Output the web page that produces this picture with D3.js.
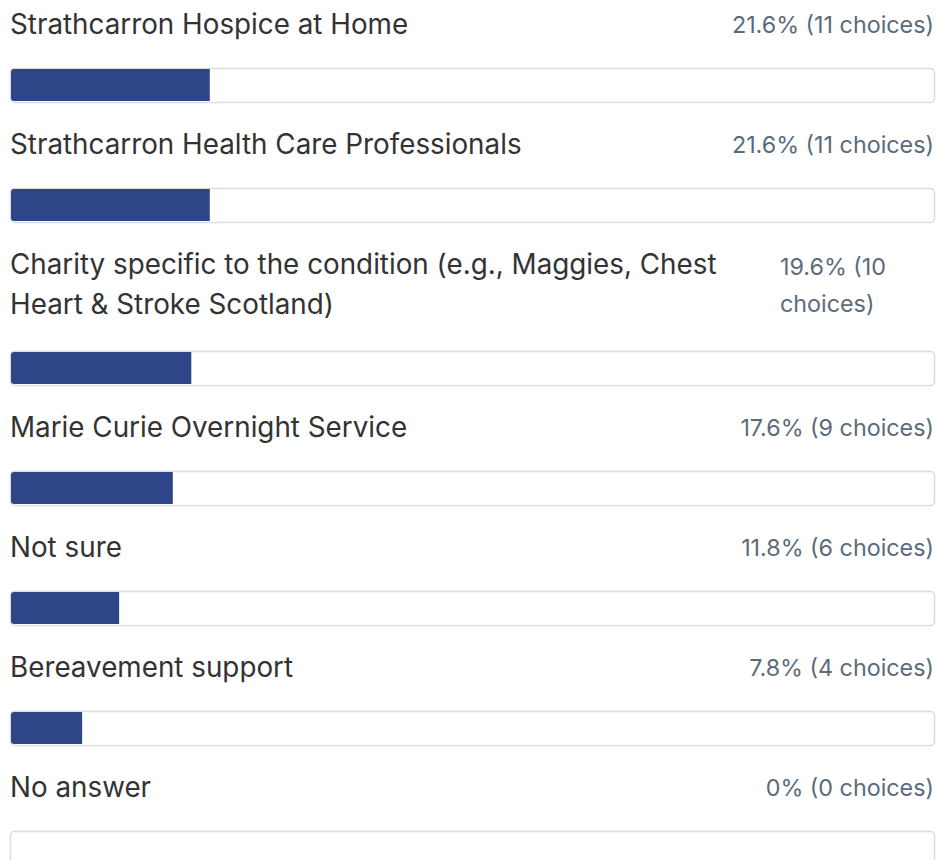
<!DOCTYPE html>
<html>
<head>
<meta charset="utf-8">
<script src="https://cdn.jsdelivr.net/npm/d3@7"></script>
<style>
  body { margin: 0; background: #fff; }
  svg { display: block; font-family: Inter, "Noto Sans", sans-serif; }
</style>
</head>
<body>
<svg id="chart" width="936" height="860"></svg>
<script>
// survey answers
const categories = [
  "Strathcarron Hospice at Home",
  "Strathcarron Health Care Professionals",
  "Charity specific to the condition (e.g., Maggies, Chest Heart & Stroke Scotland)",
  "Marie Curie Overnight Service",
  "Not sure",
  "Bereavement support",
  "No answer"
];
const percents = [21.6, 21.6, 19.6, 17.6, 11.8, 7.8, 0];
const counts = [11, 11, 10, 9, 6, 4, 0];

const trackLeft = 10;
const trackRight = 935;
const labelMax = 730;
const labelSize = 27.8;
const valueSize = 23.3;
const lineH = 40.5;
const extraH = 42.5; // extra row height per wrapped label line

const svg = d3.select("#chart");

const x = d3.scaleLinear().domain([0, 100]).range([trackLeft, trackRight]);

// wrap text into lines that fit maxW
function wrapWords(str, maxW, size) {
  const tmp = svg.append("text").attr("font-size", size);
  const words = str.split(" ");
  let lines = [];
  let cur = "";
  words.forEach((w) => {
    const test = cur ? cur + " " + w : w;
    tmp.text(test);
    if (tmp.node().getComputedTextLength() > maxW && cur) {
      lines.push(cur);
      cur = w;
    } else {
      cur = test;
    }
  });
  lines.push(cur);
  tmp.remove();
  return lines;
}

function valueText(i) {
  const p = percents[i] === 0 ? "0" : percents[i].toFixed(1);
  return p + "% (" + counts[i] + " choices)";
}

let y0 = 0;
categories.forEach((cat, i) => {
  const g = svg.append("g").attr("transform", `translate(0,${y0})`);
  const lines = wrapWords(cat, labelMax, labelSize);

  lines.forEach((ln, j) => {
    g.append("text")
      .attr("x", trackLeft)
      .attr("y", 24 + j * lineH)
      .attr("dy", "0.35em")
      .attr("font-size", labelSize)
      .attr("fill", "#333333")
      .text(ln);
  });

  // value text, wraps when the label takes two lines
  if (lines.length > 1) {
    const vLines = wrapWords(valueText(i), 150, valueSize);
    vLines.forEach((ln, j) => {
      g.append("text")
        .attr("x", 780)
        .attr("y", 27 + j * 37)
        .attr("dy", "0.35em")
        .attr("font-size", valueSize)
        .attr("fill", "#5b6b7b")
        .text(ln);
    });
  } else {
    g.append("text")
      .attr("x", 934)
      .attr("y", 25)
      .attr("dy", "0.35em")
      .attr("text-anchor", "end")
      .attr("font-size", valueSize)
      .attr("fill", "#5b6b7b")
      .text(valueText(i));
  }

  const barY = Math.round(68 + (lines.length - 1) * extraH);

  // track
  g.append("rect")
    .attr("x", trackLeft + 0.5)
    .attr("y", barY + 0.5)
    .attr("width", x(100) - trackLeft - 1)
    .attr("height", 34)
    .attr("rx", 4)
    .attr("fill", "#fff")
    .attr("stroke", "#dcdcdc")
    .attr("stroke-width", 1.5);

  // fill, rounded on the left only
  const w = x(percents[i]) - trackLeft;
  if (w > 0) {
    const r = 3, fx = trackLeft + 1, fy = barY + 1, fh = 32;
    g.append("path")
      .attr("d", `M${fx + r},${fy} H${fx + w - 1} V${fy + fh} H${fx + r} Q${fx},${fy + fh} ${fx},${fy + fh - r} V${fy + r} Q${fx},${fy} ${fx + r},${fy} Z`)
      .attr("fill", "#2e4587");
  }

  y0 += Math.round(120 + (lines.length - 1) * extraH);
});
</script>
</body>
</html>
